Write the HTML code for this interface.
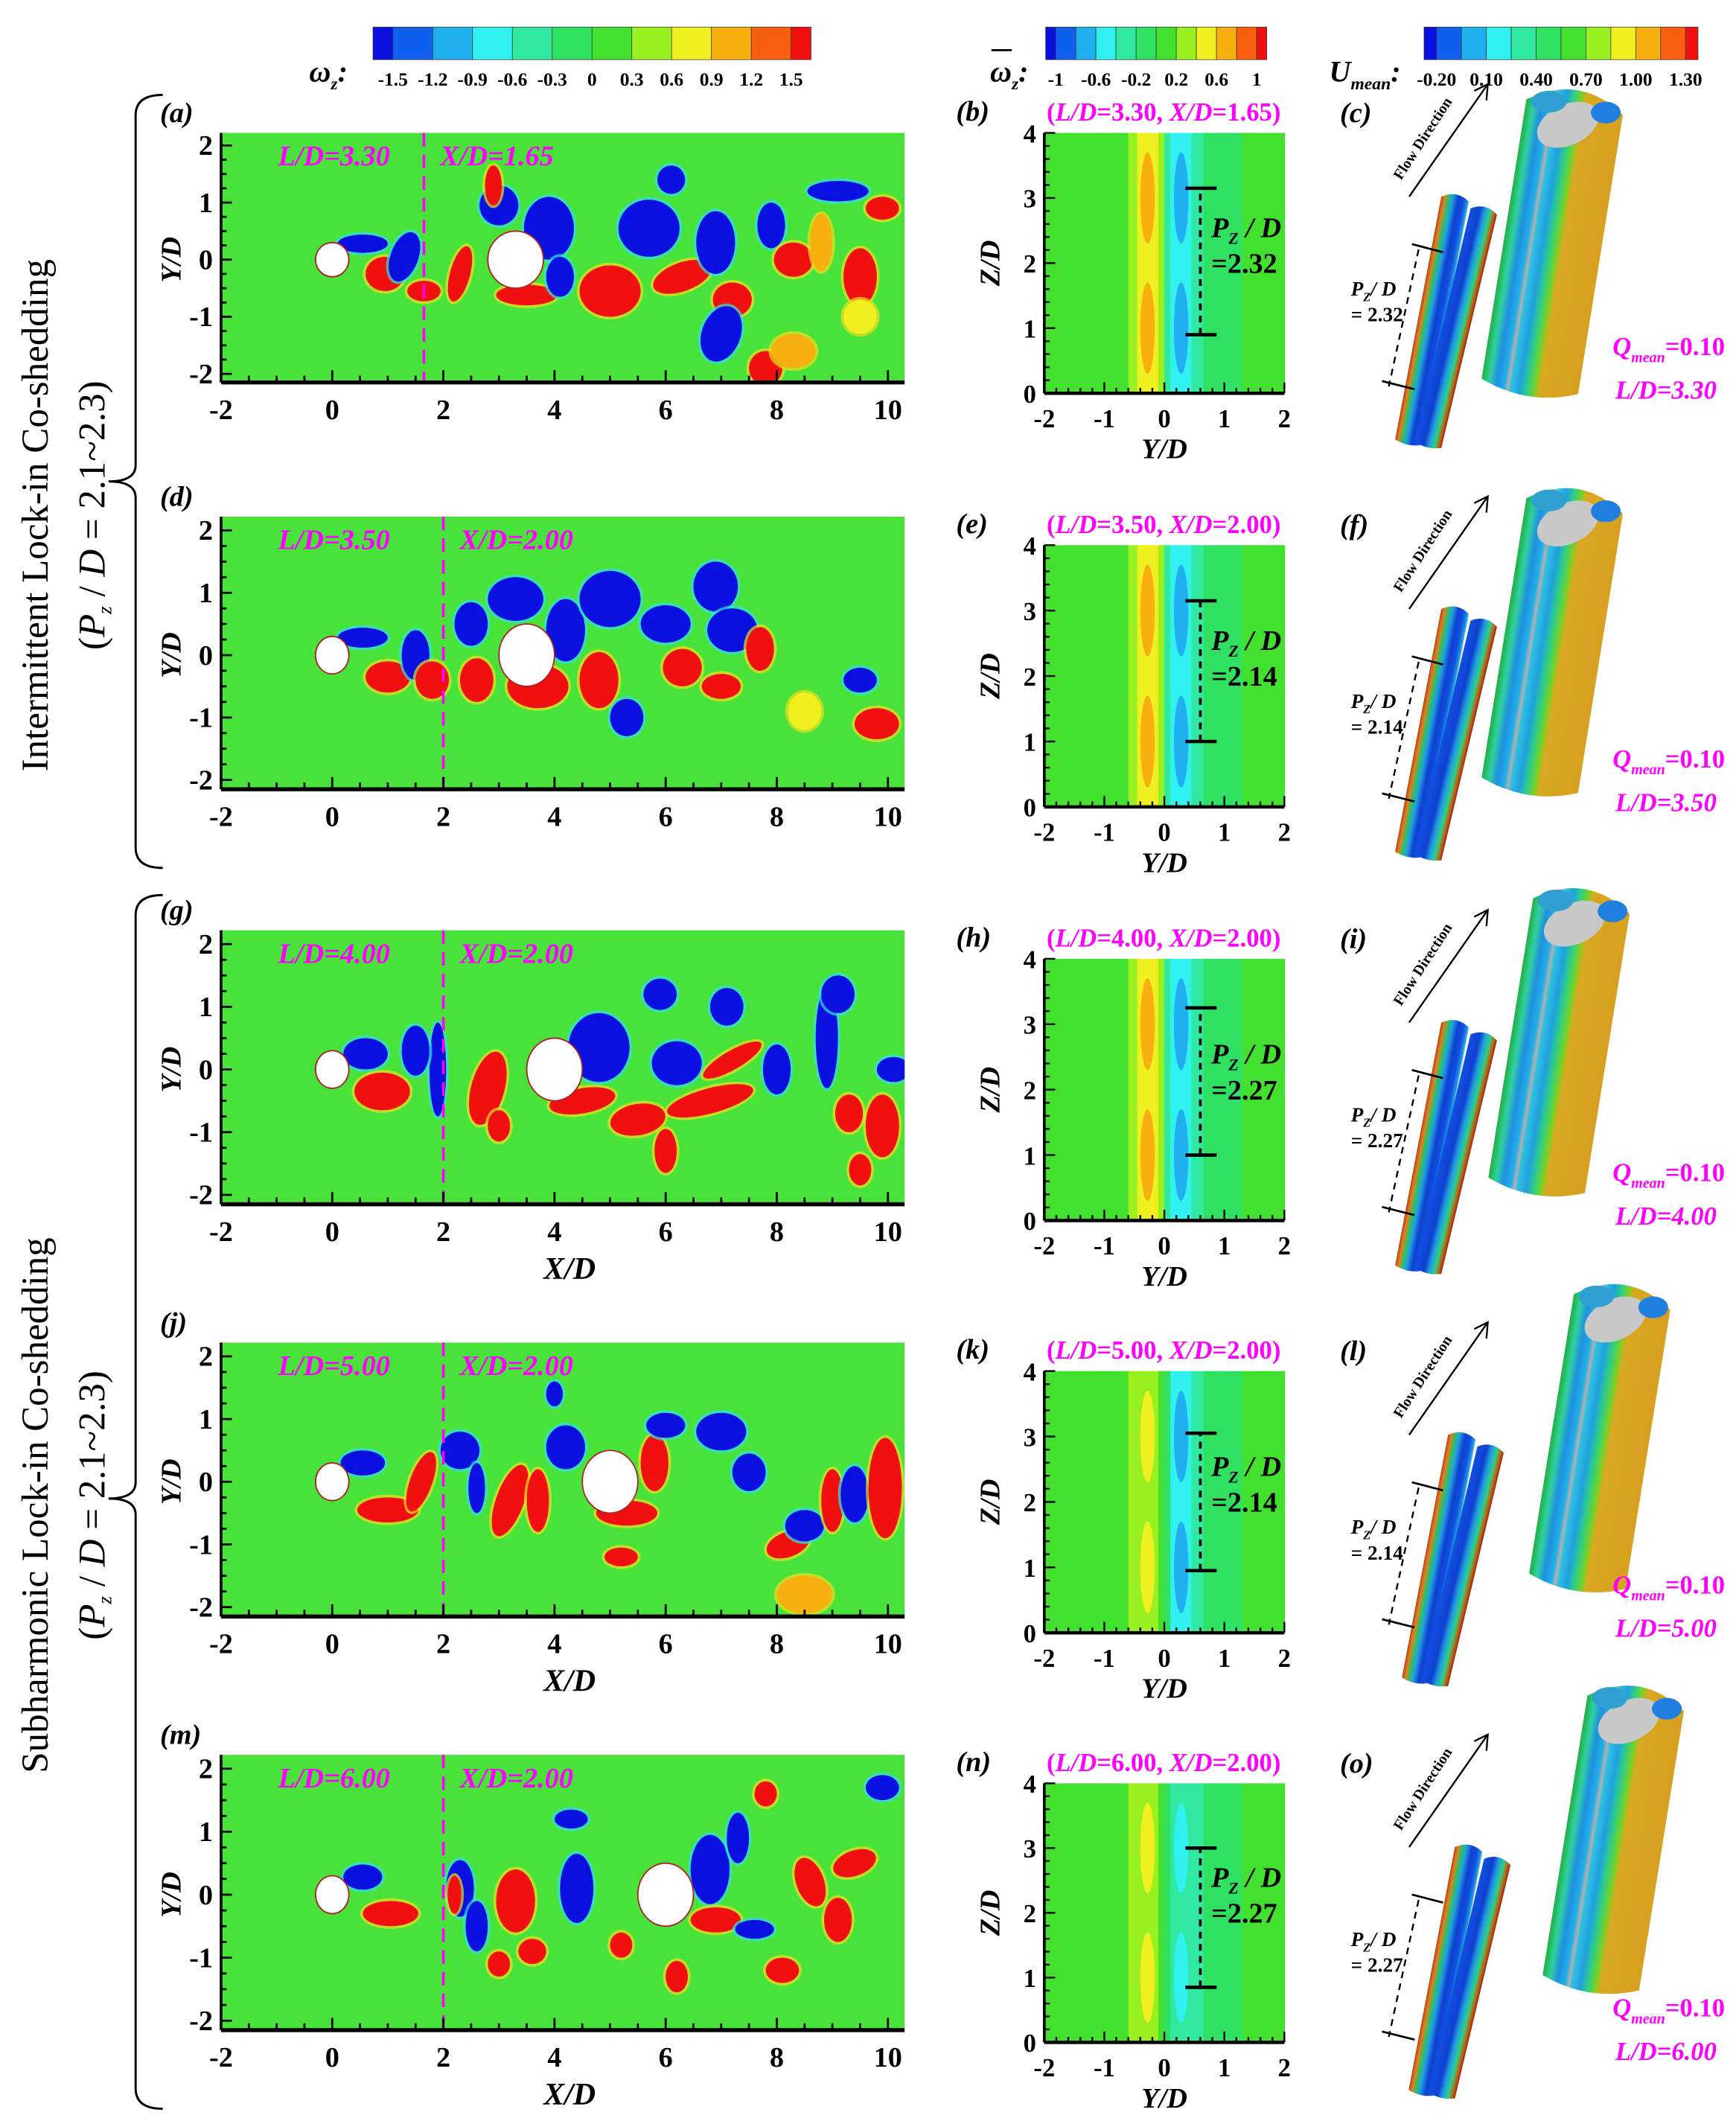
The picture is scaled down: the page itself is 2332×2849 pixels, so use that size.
<!DOCTYPE html>
<html><head><meta charset="utf-8"><style>
html,body{margin:0;padding:0;background:#fff}
svg{display:block}
text{font-family:"Liberation Serif",serif}
</style></head><body>
<svg id="fig" xmlns="http://www.w3.org/2000/svg" width="2332" height="2849" viewBox="0 0 1280 1564" preserveAspectRatio="none">
<defs>
<linearGradient id="bigTube" x1="0" x2="1" y1="0" y2="0">
<stop offset="0" stop-color="#20b040"/><stop offset="0.08" stop-color="#30d0a0"/><stop offset="0.16" stop-color="#2090e0"/>
<stop offset="0.24" stop-color="#20b0e8"/><stop offset="0.28" stop-color="#b0b0b0"/><stop offset="0.31" stop-color="#30c0e0"/>
<stop offset="0.4" stop-color="#20a0e0"/><stop offset="0.48" stop-color="#30d080"/><stop offset="0.56" stop-color="#80d020"/>
<stop offset="0.6" stop-color="#d8a820"/><stop offset="1" stop-color="#d8a020"/></linearGradient>
<linearGradient id="smallTube" x1="0" x2="1" y1="0" y2="0">
<stop offset="0" stop-color="#c04010"/><stop offset="0.12" stop-color="#e08020"/><stop offset="0.25" stop-color="#30c060"/>
<stop offset="0.4" stop-color="#20a0e0"/><stop offset="0.6" stop-color="#1040d0"/><stop offset="0.8" stop-color="#1050e0"/>
<stop offset="0.95" stop-color="#20a0e0"/><stop offset="1" stop-color="#f0f0f0"/></linearGradient>
<linearGradient id="smallTube2" x1="0" x2="1" y1="0" y2="0">
<stop offset="0" stop-color="#1050e0"/><stop offset="0.35" stop-color="#1040d0"/><stop offset="0.55" stop-color="#20a0e0"/>
<stop offset="0.75" stop-color="#30d080"/><stop offset="0.9" stop-color="#c06010"/><stop offset="1" stop-color="#a02010"/></linearGradient>
</defs>
<g id="root"></g>
</svg>
<script>
// ---------- data ----------
const cbar1Labels = ["-1.5","-1.2","-0.9","-0.6","-0.3","0","0.3","0.6","0.9","1.2","1.5"];
const cbar2Labels = ["-1","-0.6","-0.2","0.2","0.6","1"];
const cbar3Labels = ["-0.20","0.10","0.40","0.70","1.00","1.30"];
const xTicks = [-2,0,2,4,6,8,10];
const yTicks = [2,1,0,-1,-2];
const yTicksMid = [-2,-1,0,1,2];
const zTicks = [0,1,2,3,4];
const panelLetters = [["(a)","(b)","(c)"],["(d)","(e)","(f)"],["(g)","(h)","(i)"],["(j)","(k)","(l)"],["(m)","(n)","(o)"]];
const ldValues = [3.30,3.50,4.00,5.00,6.00];
const xdValues = [1.65,2.00,2.00,2.00,2.00];
const pzValues = ["2.32","2.14","2.27","2.14","2.27"];
const pzLow = [0.9,1.0,1.0,0.95,0.85];
const pzHigh = [3.15,3.15,3.25,3.05,3.0];
const posPeak = [0.6,0.55,0.5,0.45,0.45];
const negPeak = [-0.6,-0.55,-0.55,-0.5,-0.45];
// mean profile breakpoints in Y and relative strength
const profY = [-2,-1.6,-1.15,-0.85,-0.6,-0.45,-0.1,0,0.1,0.45,0.65,0.95,1.3,2];
const profW = [0.05,0.0,0.1,0.25,0.55,1.0,0.5,-0.45,-1.0,-0.55,-0.3,-0.12,0.05];
// vortex blobs [x, y, rx, ry, value, rot]
const blobs = [
 [[0.55,0.28,0.45,0.16,-1,0],[0.95,-0.25,0.35,0.3,1,0],[1.3,0.05,0.25,0.45,-1,20],[1.65,-0.55,0.3,0.18,1,0],[2.3,-0.25,0.18,0.5,1,15],
  [3.0,0.95,0.35,0.35,-1,0],[2.9,1.3,0.15,0.35,1,0],[3.9,0.55,0.45,0.55,-1,0],[3.5,-0.62,0.55,0.18,1,0],[4.1,-0.3,0.25,0.35,-1,0],
  [5.0,-0.55,0.55,0.45,1,0],[5.7,0.55,0.55,0.5,-1,0],[6.1,1.4,0.25,0.25,-1,0],[6.3,-0.3,0.55,0.25,1,-20],[6.9,0.3,0.35,0.55,-1,0],
  [7.2,-0.7,0.35,0.3,1,0],[7.0,-1.3,0.35,0.5,-1,20],[7.8,-1.9,0.3,0.3,1,0],[7.9,0.6,0.25,0.4,-1,0],[8.3,0.0,0.35,0.3,1,0],
  [9.1,1.2,0.55,0.18,-1,0],[8.8,0.3,0.2,0.5,0.6,0],[9.5,-0.3,0.3,0.5,1,0],[9.9,0.9,0.3,0.2,1,0],[8.3,-1.6,0.4,0.3,0.6,0],[9.5,-1.0,0.3,0.3,0.5,0]],
 [[0.55,0.28,0.45,0.16,-1,0],[1.0,-0.35,0.4,0.25,1,0],[1.5,0.0,0.25,0.4,-1,0],[1.8,-0.4,0.3,0.3,1,0],[2.5,0.5,0.3,0.35,-1,0],
  [2.6,-0.4,0.3,0.35,1,0],[3.3,0.9,0.5,0.35,-1,0],[3.7,-0.5,0.55,0.35,1,0],[4.2,0.4,0.35,0.5,-1,0],[4.8,-0.4,0.35,0.45,1,0],
  [5.0,0.9,0.55,0.45,-1,0],[5.3,-1.0,0.3,0.3,-1,0],[6.0,0.5,0.45,0.3,-1,0],[6.3,-0.2,0.35,0.3,1,0],[6.9,1.1,0.4,0.4,-1,0],
  [7.2,0.4,0.45,0.35,-1,0],[7.0,-0.5,0.35,0.2,1,0],[7.7,0.1,0.25,0.35,1,0],[8.5,-0.9,0.3,0.3,0.5,0],[9.8,-1.1,0.4,0.25,1,0],[9.5,-0.4,0.3,0.2,-1,0]],
 [[0.6,0.25,0.4,0.25,-1,0],[0.9,-0.35,0.5,0.3,1,0],[1.9,0.0,0.15,0.75,-1,0],[1.5,0.3,0.25,0.4,-1,0],[2.8,-0.3,0.3,0.6,1,15],
  [3.0,-0.9,0.2,0.25,1,0],[4.8,0.35,0.55,0.55,-1,0],[4.5,-0.5,0.6,0.2,1,-10],[5.5,-0.8,0.5,0.25,1,-10],[6.2,0.1,0.45,0.35,-1,0],
  [6.8,-0.5,0.8,0.2,1,-15],[7.2,0.15,0.6,0.15,1,-30],[5.9,1.2,0.3,0.25,-1,0],[7.1,1.0,0.3,0.3,-1,0],[6.0,-1.3,0.2,0.35,1,0],
  [8.0,0.0,0.25,0.4,-1,0],[8.9,0.5,0.2,0.8,-1,0],[9.1,1.2,0.3,0.3,-1,0],[9.9,-0.9,0.3,0.5,1,0],[9.3,-0.7,0.25,0.3,1,0],[9.5,-1.6,0.2,0.25,1,0],[10.1,0.0,0.3,0.2,-1,0]],
 [[0.55,0.3,0.4,0.2,-1,0],[1.0,-0.45,0.55,0.2,1,0],[1.6,0.0,0.2,0.5,1,20],[2.3,0.5,0.35,0.3,-1,0],[2.6,-0.1,0.15,0.4,-1,0],
  [3.2,-0.3,0.25,0.6,1,20],[3.7,-0.3,0.2,0.5,1,0],[4.2,0.55,0.35,0.35,-1,0],[4.0,1.4,0.15,0.2,-1,0],[5.3,-0.5,0.55,0.2,1,0],
  [5.8,0.3,0.25,0.45,1,0],[6.0,0.9,0.35,0.2,-1,0],[7.0,0.8,0.45,0.3,-1,0],[7.5,0.15,0.3,0.3,-1,0],[5.2,-1.2,0.3,0.15,1,0],
  [8.2,-1.0,0.4,0.2,1,-20],[8.5,-0.7,0.35,0.25,-1,0],[9.0,-0.3,0.2,0.5,1,0],[9.4,-0.2,0.25,0.45,-1,0],[9.95,-0.1,0.3,0.8,1,0],[8.5,-1.8,0.5,0.3,0.6,0]],
 [[0.55,0.28,0.35,0.2,-1,0],[1.05,-0.3,0.5,0.2,1,0],[2.3,0.1,0.25,0.45,-1,0],[2.6,-0.5,0.2,0.4,-1,0],[2.2,-0.0,0.12,0.3,1,0],
  [3.3,-0.1,0.35,0.5,1,0],[3.0,-1.1,0.2,0.2,1,0],[4.4,0.1,0.3,0.55,-1,0],[4.3,1.2,0.3,0.15,-1,0],[3.6,-0.9,0.25,0.2,1,0],
  [5.2,-0.8,0.2,0.2,1,0],[6.8,0.4,0.35,0.55,-1,0],[7.3,0.9,0.2,0.4,-1,0],[6.9,-0.4,0.45,0.2,1,0],[7.6,-0.55,0.35,0.15,-1,0],
  [7.8,1.6,0.2,0.2,1,0],[8.6,0.2,0.25,0.4,1,-20],[9.1,-0.4,0.25,0.35,1,0],[9.4,0.5,0.4,0.2,1,-20],[6.2,-1.3,0.2,0.25,1,0],[8.1,-1.2,0.3,0.2,1,0],[9.9,1.7,0.3,0.2,-1,0]]
];
// ---------- layout ----------
const leftTop = [98,381,686,990,1294];
const leftH = [184,201,202,202,203];
const midTop = [98,402,707,1011,1315];
const midH = [192,193,193,193,191];
const LX0=163, LX1=667, XMIN=-2, XMAX=10.3, YMIN=-2.15, YMAX=2.22;
const MX0=770, MX1=947;
const MAG="#ff00ff";
const cols=["#0a10e0","#1060f0","#20b0f0","#30f0f0","#30e8a0","#30e060","#44e030","#98f020","#f0f020","#f8b010","#f86010","#f01010"];
function colorFor(v,vmax){let t=(v+vmax)/(2*vmax);let i=Math.round(t*11);return cols[Math.max(0,Math.min(11,i))];}
const NS="http://www.w3.org/2000/svg";
const root=document.getElementById('root');
function el(tag,attrs,parent,txt){const e=document.createElementNS(NS,tag);for(const k in attrs)e.setAttribute(k,attrs[k]);if(txt!==undefined)e.textContent=txt;(parent||root).appendChild(e);return e;}

function colorbar(x0,x1,labels,name){
  const g=el('g',{});
  
  
  const n=12, w=(x1-x0)/11;
  let x=x0;
  for(let i=0;i<n;i++){const ww=(i==0||i==n-1)?w/2:w;el('rect',{x:x,y:20,width:ww,height:24,fill:cols[i],stroke:'#333','stroke-width':0.4},g);x+=ww;}
  labels.forEach((l,i)=>{const lx=x0+w/2+i*(x1-x0-w)/(labels.length-1);el('text',{x:lx,y:63,'font-size':14,'font-weight':'bold','text-anchor':'middle'},g,l);});
  return g;
}
colorbar(275,598,cbar1Labels,'vorticity-colorbar');
colorbar(771,934,cbar2Labels,'mean-vorticity-colorbar');
colorbar(1050,1252,cbar3Labels,'umean-colorbar');
let t=el('text',{x:228,y:60,'font-size':22,'font-weight':'bold','font-style':'italic'},root);

t.innerHTML='ω<tspan font-size="13" dy="6">z</tspan><tspan dy="-6">:</tspan>';
t=el('text',{x:730,y:60,'font-size':22,'font-weight':'bold','font-style':'italic'},root);

t.innerHTML='ω<tspan font-size="13" dy="6">z</tspan><tspan dy="-6">:</tspan>';
el('line',{x1:731,y1:37,x2:746,y2:37,stroke:'#000','stroke-width':1.5});
t=el('text',{x:980,y:60,'font-size':22,'font-weight':'bold','font-style':'italic'},root);

t.innerHTML='U<tspan font-size="13" dy="6">mean</tspan><tspan dy="-6">:</tspan>';

function sideLabel(cy,l1,name){
  const g=el('g',{transform:`translate(0,${cy}) rotate(-90)`});
  
  el('text',{x:0,y:35,'font-size':28,'text-anchor':'middle'},g,l1);
  const t2=el('text',{x:0,y:77,'font-size':28,'text-anchor':'middle'},g);
  t2.innerHTML='(<tspan font-style="italic">P</tspan><tspan font-size="15" dy="5" font-style="italic">z</tspan><tspan dy="-5"> / </tspan><tspan font-style="italic">D</tspan> = 2.1~2.3)';
}
sideLabel(380,'Intermittent  Lock-in Co-shedding','intermittent-label');
sideLabel(1110,'Subharmonic Lock-in Co-shedding','subharmonic-label');
function brace(y0,y1,ym,name){
  const p=el('path',{d:`M120,${y0} Q100,${y0} 100,${y0+15} L100,${ym-12} Q100,${ym} 80,${ym} Q100,${ym} 100,${ym+12} L100,${y1-15} Q100,${y1} 120,${y1}`,fill:'none',stroke:'#000','stroke-width':1.6});
  
}
brace(70,640,355,'brace-intermittent');
brace(660,1555,1105,'brace-subharmonic');

function tube(parent,x1,y1,x2,y2,w,fill,name){
  const cx=(x1+x2)/2, cy=(y1+y2)/2, L=Math.hypot(x2-x1,y2-y1);
  const ang=Math.atan2(x1-x2,y2-y1)*180/Math.PI;
  const g=el('g',{transform:`translate(${cx},${cy}) rotate(${ang})`},parent);
  
  el('path',{d:`M${-w/2},${-L/2} Q0,${-L/2-w*0.35} ${w/2},${-L/2} L${w/2},${L/2} Q0,${L/2+w*0.2} ${-w/2},${L/2} Z`,fill:fill},g);
  return g;
}

for(let r=0;r<5;r++){
  const top=leftTop[r],H=leftH[r],bot=top+H;
  const sx=v=>LX0+(v-XMIN)/(XMAX-XMIN)*(LX1-LX0);
  const sy=v=>top+(YMAX-v)/(YMAX-YMIN)*H;
  const sxs=(LX1-LX0)/(XMAX-XMIN), sys=H/(YMAX-YMIN);
  const g=el('g',{});
  
  const cid='clip'+r;
  const cp=el('clipPath',{id:cid},g);el('rect',{x:LX0,y:top,width:LX1-LX0,height:H},cp);
  el('rect',{x:LX0,y:top,width:LX1-LX0,height:H,fill:'#48e23a'},g);
  const bg=el('g',{'clip-path':`url(#${cid})`},g);
  blobs[r].forEach(b=>{
    const cx=sx(b[0]),cy=sy(b[1]),rx=b[2]*sxs,ry=b[3]*sys;
    const halo=b[4]>0?'#f0e020':'#30e0e0';
    const e0=el('ellipse',{cx:cx,cy:cy,rx:rx+2,ry:ry+2,fill:halo,opacity:0.7,transform:`rotate(${b[5]} ${cx} ${cy})`},bg);
    
    const e=el('ellipse',{cx:cx,cy:cy,rx:rx,ry:ry,fill:colorFor(b[4],1),transform:`rotate(${b[5]} ${cx} ${cy})`},bg);
    
  });
  let c=el('ellipse',{cx:sx(0),cy:sy(0),rx:0.3*sxs,ry:0.3*sys,fill:'#fff',stroke:'#b02020','stroke-width':1},g);
  
  c=el('ellipse',{cx:sx(ldValues[r]),cy:sy(0),rx:0.5*sxs,ry:0.5*sys,fill:'#fff',stroke:'#b02020','stroke-width':1},g);
  
  const dl=el('line',{x1:sx(xdValues[r]),x2:sx(xdValues[r]),y1:top,y2:bot,stroke:MAG,'stroke-width':2,'stroke-dasharray':'10,6'},g);
  
  let tt=el('text',{x:205,y:top+24,'font-size':21,'font-weight':'bold','font-style':'italic',fill:MAG},g,'L/D='+ldValues[r].toFixed(2));
  
  tt=el('text',{x:sx(xdValues[r])+12,y:top+24,'font-size':21,'font-weight':'bold','font-style':'italic',fill:MAG},g,'X/D='+xdValues[r].toFixed(2));
  
  el('line',{x1:LX0,x2:LX1,y1:bot,y2:bot,stroke:'#000','stroke-width':3},g);
  el('line',{x1:LX0,x2:LX0,y1:top,y2:bot,stroke:'#000','stroke-width':2},g);
  for(let v=-2;v<=10.3;v+=0.5){const big=Math.abs(v-Math.round(v/2)*2)<0.01;el('line',{x1:sx(v),x2:sx(v),y1:bot,y2:bot-(big?9:5),stroke:'#000','stroke-width':1.5},g);}
  xTicks.forEach(v=>{const tk=el('text',{x:sx(v),y:bot+27,'font-size':21,'font-weight':'bold','text-anchor':'middle'},g,String(v));});
  for(let v=-2;v<=2;v+=0.25){const big=Math.abs(v-Math.round(v))<0.01;el('line',{x1:LX0,x2:LX0+(big?8:4),y1:sy(v),y2:sy(v),stroke:'#000','stroke-width':1.5},g);}
  yTicks.forEach(v=>{const tk=el('text',{x:LX0-6,y:sy(v)+7,'font-size':21,'font-weight':'bold','text-anchor':'end'},g,String(v));});
  tt=el('text',{x:0,y:0,'font-size':21,'font-weight':'bold','font-style':'italic','text-anchor':'middle',transform:`translate(133,${sy(0)}) rotate(-90)`},g,'Y/D');
  
  if(r>=2){tt=el('text',{x:(LX0+LX1)/2+5,y:bot+55,'font-size':23,'font-weight':'bold','font-style':'italic','text-anchor':'middle'},g,'X/D');}
  tt=el('text',{x:118,y:top-8,'font-size':21,'font-weight':'bold','font-style':'italic'},g,panelLetters[r][0]);
  

  // ---- middle panel ----
  const mt=midTop[r],mh=midH[r],mb=mt+mh;
  const mx=v=>MX0+(v+2)/4*(MX1-MX0);
  const mz=v=>mb-v/4*mh;
  const mg=el('g',{});
  
  for(let i=0;i<profW.length;i++){
    const w=profW[i], v=w>=0?w*posPeak[r]:-w*negPeak[r];
    const s=el('rect',{x:mx(profY[i]),y:mt,width:mx(profY[i+1])-mx(profY[i])+0.5,height:mh,fill:colorFor(v,1.3)},mg);
    
  }
  [1,3].forEach(zc=>{
    let e=el('ellipse',{cx:mx(-0.28),cy:mz(zc),rx:0.12*(MX1-MX0)/4,ry:0.7*mh/4,fill:colorFor(posPeak[r]+0.25,1.3)},mg);
    
    e=el('ellipse',{cx:mx(0.28),cy:mz(zc),rx:0.12*(MX1-MX0)/4,ry:0.7*mh/4,fill:colorFor(negPeak[r]-0.25,1.3)},mg);
    
  });
  el('line',{x1:MX0,x2:MX1,y1:mb,y2:mb,stroke:'#000','stroke-width':2.5},mg);
  el('line',{x1:MX0,x2:MX0,y1:mt,y2:mb,stroke:'#000','stroke-width':2},mg);
  for(let v=-2;v<=2.01;v+=0.2){el('line',{x1:mx(v),x2:mx(v),y1:mb,y2:mb-(Math.abs(v-Math.round(v))<0.01?8:4),stroke:'#000','stroke-width':1.3},mg);}
  for(let v=0;v<=4.01;v+=0.2){el('line',{x1:MX0,x2:MX0+(Math.abs(v-Math.round(v))<0.01?8:4),y1:mz(v),y2:mz(v),stroke:'#000','stroke-width':1.3},mg);}
  yTicksMid.forEach(v=>{const tk=el('text',{x:mx(v),y:mb+25,'font-size':19,'font-weight':'bold','text-anchor':'middle'},mg,String(v));});
  zTicks.forEach(v=>{const tk=el('text',{x:MX0-6,y:mz(v)+7,'font-size':19,'font-weight':'bold','text-anchor':'end'},mg,String(v));});
  tt=el('text',{x:(MX0+MX1)/2,y:mb+48,'font-size':21,'font-weight':'bold','font-style':'italic','text-anchor':'middle'},mg,'Y/D');
  tt=el('text',{x:0,y:0,'font-size':21,'font-weight':'bold','font-style':'italic','text-anchor':'middle',transform:`translate(737,${(mt+mb)/2}) rotate(-90)`},mg,'Z/D');
  tt=el('text',{x:858,y:mt-9,'font-size':19,'font-weight':'bold',fill:MAG,'text-anchor':'middle'},mg);
  tt.innerHTML=`(<tspan font-style="italic">L/D</tspan>=${ldValues[r].toFixed(2)}, <tspan font-style="italic">X/D</tspan>=${xdValues[r].toFixed(2)})`;
  
  const bx=mx(0.6);
  el('line',{x1:bx,x2:bx,y1:mz(pzLow[r]),y2:mz(pzHigh[r]),stroke:'#000','stroke-width':2,'stroke-dasharray':'5,4'},mg);
  el('line',{x1:bx-11,x2:bx+12,y1:mz(pzLow[r]),y2:mz(pzLow[r]),stroke:'#000','stroke-width':2.5},mg);
  el('line',{x1:bx-11,x2:bx+12,y1:mz(pzHigh[r]),y2:mz(pzHigh[r]),stroke:'#000','stroke-width':2.5},mg);
  tt=el('text',{x:bx+8,y:mz(2.4),'font-size':21,'font-weight':'bold','font-style':'italic'},mg);
  tt.innerHTML='P<tspan font-size="12" dy="5">Z</tspan><tspan dy="-5"> / D</tspan>';
  
  tt=el('text',{x:bx+8,y:mz(1.85),'font-size':21,'font-weight':'bold'},mg,'='+pzValues[r]);
  
  tt=el('text',{x:705,y:mt-9,'font-size':21,'font-weight':'bold','font-style':'italic'},mg,panelLetters[r][1]);
  

  // ---- right 3D panel ----
  const dy=midTop[r]-98;
  const X=[0,0,5,35,45][r], bdy=[-5,-15,-25,-37,-45][r], sxo=[0,0,0,5,10][r], s=[0,0,0,0,0][r];
  const rg=el('g',{});
  
  tt=el('text',{x:988,y:dy+90,'font-size':21,'font-weight':'bold','font-style':'italic'},rg,panelLetters[r][2]);
  
  el('line',{x1:1039,y1:dy+145,x2:1097,y2:dy+62,stroke:'#000','stroke-width':1.3},rg);
  el('path',{d:`M1087,${dy+67} L1097,${dy+62} L1096,${dy+74}`,fill:'none',stroke:'#000','stroke-width':1.3},rg);
  tt=el('text',{x:0,y:0,'font-size':11,'font-weight':'bold','text-anchor':'middle',transform:`translate(1052,${dy+104}) rotate(-57)`},rg,'Flow Direction');
  
  const B=dy+bdy;
  tube(rg,1161+X,B+84,1128+X,B+290,72,'url(#bigTube)','downstream-isosurface');
  el('ellipse',{cx:1156+X,cy:B+97,rx:24,ry:15,fill:'#c8c8c8',transform:`rotate(-25 ${1156+X} ${B+97})`},rg);
  el('ellipse',{cx:1142+X,cy:B+80,rx:13,ry:8,fill:'#30a0d0'},rg);
  el('ellipse',{cx:1184+X,cy:B+88,rx:11,ry:8,fill:'#2080e0'},rg);
  const Sx=sxo;
  tube(rg,1073+Sx,dy+147+s,1039+Sx,dy+326+s,21,'url(#smallTube)','upstream-isosurface-left');
  tube(rg,1094+Sx,dy+156+s,1053+Sx,dy+328+s,20,'url(#smallTube2)','upstream-isosurface-right');
  el('line',{x1:1041,y1:dy+180+s,x2:1064,y2:dy+186+s,stroke:'#000','stroke-width':1.5},rg);
  el('line',{x1:1019,y1:dy+281+s,x2:1043,y2:dy+287+s,stroke:'#000','stroke-width':1.5},rg);
  el('line',{x1:1046,y1:dy+184+s,x2:1024,y2:dy+285+s,stroke:'#000','stroke-width':1.3,'stroke-dasharray':'5,4'},rg);
  tt=el('text',{x:996,y:dy+218+s,'font-size':15,'font-weight':'bold','font-style':'italic'},rg);
  tt.innerHTML='P<tspan font-size="9" dy="4">Z</tspan><tspan dy="-4">/ D</tspan>';
  
  tt=el('text',{x:996,y:dy+237+s,'font-size':15,'font-weight':'bold'},rg,'= '+pzValues[r]);
  
  const qy=[262,262,262,262,270][r];
  tt=el('text',{x:1189,y:dy+qy,'font-size':19,'font-weight':'bold','font-style':'italic',fill:MAG},rg);
  tt.innerHTML='Q<tspan font-size="11" dy="5">mean</tspan><tspan dy="-5" font-style="normal">=0.10</tspan>';
  
  tt=el('text',{x:1191,y:dy+qy+32,'font-size':19,'font-weight':'bold','font-style':'italic',fill:MAG},rg,'L/D='+ldValues[r].toFixed(2));
  
}
</script>
</body></html>
